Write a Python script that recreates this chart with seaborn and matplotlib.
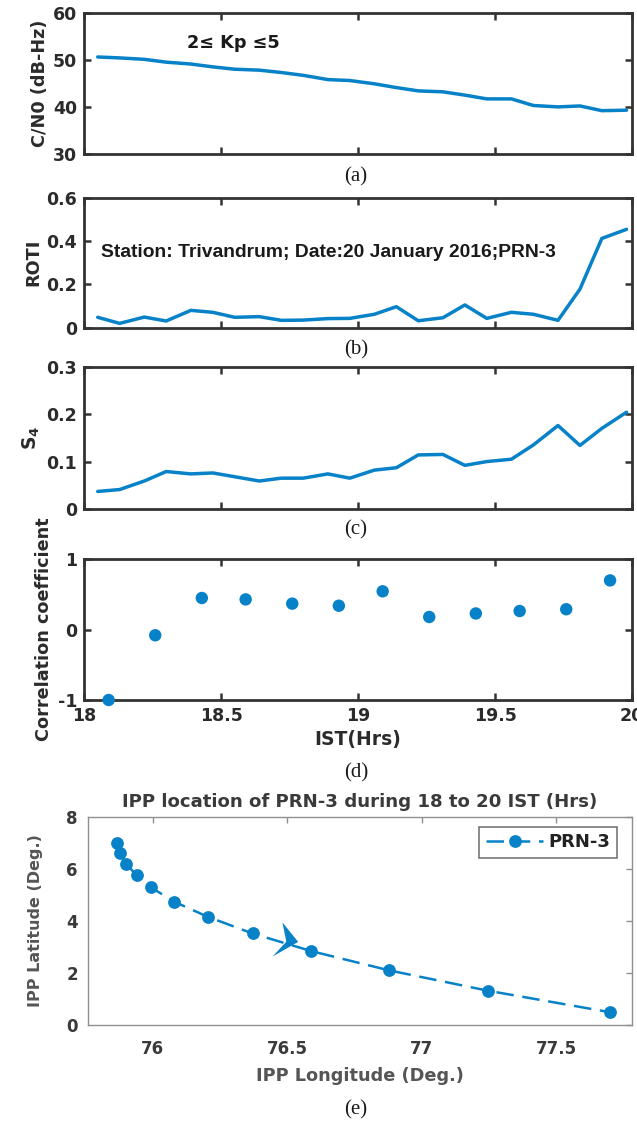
import matplotlib
matplotlib.use("Agg")
import matplotlib.pyplot as plt
from matplotlib.path import Path
from matplotlib.ticker import FixedLocator, FixedFormatter
import seaborn as sns
import pandas as pd

# ---------------- data ----------------
# 5-minute samples (IST hours)
ist_5min = [18.05, 18.13, 18.22, 18.30, 18.39, 18.47, 18.55, 18.64, 18.72, 18.80,
            18.89, 18.97, 19.06, 19.14, 19.22, 19.31, 19.39, 19.47, 19.56, 19.64,
            19.73, 19.81, 19.89, 19.98]
cn0 = [50.6, 50.4, 50.1, 49.5, 49.1, 48.5, 48.0, 47.8, 47.3, 46.7,
       45.8, 45.6, 44.9, 44.1, 43.4, 43.2, 42.5, 41.7, 41.7, 40.3,
       40.0, 40.2, 39.2, 39.3]
roti = [0.048, 0.020, 0.049, 0.031, 0.080, 0.071, 0.048, 0.051, 0.034, 0.035,
        0.042, 0.043, 0.062, 0.097, 0.032, 0.046, 0.105, 0.043, 0.071, 0.062,
        0.034, 0.178, 0.412, 0.454]
s4 = [0.037, 0.041, 0.059, 0.079, 0.074, 0.076, 0.068, 0.059, 0.065, 0.065,
      0.074, 0.065, 0.082, 0.087, 0.114, 0.115, 0.092, 0.100, 0.105, 0.135,
      0.176, 0.134, 0.170, 0.204]

# 10-minute windows for the correlation coefficient
ist_10min = [18.09, 18.26, 18.43, 18.59, 18.76, 18.93, 19.09, 19.26, 19.43, 19.59, 19.76, 19.92]
corr = [-1.0, -0.08, 0.45, 0.43, 0.37, 0.34, 0.545, 0.18, 0.23, 0.265, 0.29, 0.70]

# ionospheric pierce point track of PRN-3
ipp_lon = [75.868, 75.880, 75.900, 75.940, 75.994, 76.080, 76.205, 76.371, 76.590, 76.879, 77.245, 77.700]
ipp_lat = [7.00, 6.62, 6.21, 5.76, 5.29, 4.74, 4.16, 3.52, 2.84, 2.10, 1.32, 0.49]
arrow_lon = [76.46]
arrow_lat = [3.29]

ist_ticks = [18, 18.5, 19, 19.5, 20]
ist_ticklabels = ["18", "18.5", "19", "19.5", "20"]
lon_ticks = [76, 76.5, 77, 77.5]
lon_ticklabels = ["76", "76.5", "77", "77.5"]
lat_ticks = [0, 2, 4, 6, 8]

# ---------------- style ----------------
sns.set_theme(style="white")
plt.rcParams["font.family"] = ["DejaVu Sans"]
plt.rcParams["mathtext.fontset"] = "dejavusans"

BLUE = "#0782c8"
INK = "#2b2b2b"
W, H = 637, 1124

fig = plt.figure(figsize=(W / 100, H / 100), dpi=100)
fig.patch.set_facecolor("white")


def panel(left, right, top, bottom):
    return fig.add_axes([left / W, 1 - bottom / H, (right - left) / W, (bottom - top) / H])


def matlab_box(ax, ylim, yticks, yticklabels, show_x=False):
    ax.set_facecolor("white")
    ax.set_xlim(18, 20)
    ax.set_ylim(*ylim)
    for sp in ax.spines.values():
        sp.set_visible(True)
        sp.set_color("#333333")
        sp.set_linewidth(2.0)
    ax.xaxis.set_major_locator(FixedLocator(ist_ticks))
    ax.yaxis.set_major_locator(FixedLocator(yticks))
    ax.yaxis.set_major_formatter(FixedFormatter(yticklabels))
    if show_x:
        ax.xaxis.set_major_formatter(FixedFormatter(ist_ticklabels))
    ax.tick_params(direction="in", length=5, width=1.8, color="#333333",
                   top=True, right=True, bottom=True, left=True,
                   labelbottom=show_x, labelsize=12.5, labelcolor=INK, pad=5)
    for lab in ax.get_xticklabels() + ax.get_yticklabels():
        lab.set_fontweight("bold")
    ax.grid(False)


# ---------------- (a) C/N0 ----------------
ax_a = panel(84, 632, 12.7, 154)
sns.lineplot(x=ist_5min, y=cn0, ax=ax_a, color=BLUE, linewidth=2.5, sort=False)
matlab_box(ax_a, (30, 60), [30, 40, 50, 60], ["30", "40", "50", "60"])
ax_a.set_ylabel("C/N0 (dB-Hz)", fontsize=12.7, fontweight="bold", color=INK, labelpad=3)
ax_a.text(18.376, 53.6, "2\u2264 Kp \u22645", fontsize=12.7, fontweight="bold",
          color="#1a1a1a", ha="left", va="center")

# ---------------- (b) ROTI ----------------
ax_b = panel(84, 632, 197.7, 327.7)
sns.lineplot(x=ist_5min, y=roti, ax=ax_b, color=BLUE, linewidth=2.5, sort=False)
matlab_box(ax_b, (0, 0.6), [0, 0.2, 0.4, 0.6], ["0", "0.2", "0.4", "0.6"])
ax_b.set_ylabel("ROTI", fontsize=12.7, fontweight="bold", color=INK, labelpad=3)
ax_b.text(18.062, 0.345, "Station: Trivandrum; Date:20 January 2016;PRN-3",
          family=["Liberation Sans", "DejaVu Sans"], fontsize=13.9, fontweight="bold",
          color="#1a1a1a", ha="left", va="center")

# ---------------- (c) S4 ----------------
ax_c = panel(84, 632, 366.7, 509)
sns.lineplot(x=ist_5min, y=s4, ax=ax_c, color=BLUE, linewidth=2.5, sort=False)
matlab_box(ax_c, (0, 0.3), [0, 0.1, 0.2, 0.3], ["0", "0.1", "0.2", "0.3"])
ax_c.set_ylabel(r"$\mathbf{S_4}$", fontsize=13.5, color=INK, labelpad=3)

# ---------------- (d) correlation ----------------
ax_d = panel(84, 632, 559.3, 700)
sns.scatterplot(x=ist_10min, y=corr, ax=ax_d, color=BLUE, s=80, edgecolor="none",
                clip_on=False, zorder=5)
matlab_box(ax_d, (-1, 1), [-1, 0, 1], ["-1", "0", "1"], show_x=True)
ax_d.set_ylabel("Correlation coefficient", fontsize=12.7, fontweight="bold", color=INK, labelpad=3)
ax_d.set_xlabel("IST(Hrs)", fontsize=13.5, fontweight="bold", color=INK, labelpad=4)

# ---------------- (e) IPP track ----------------
ax_e = panel(87.6, 632, 817, 1025)
ax_e.set_facecolor("white")
track = pd.DataFrame({"lon": ipp_lon, "lat": ipp_lat})
sns.lineplot(data=track, x="lon", y="lat", ax=ax_e, color=BLUE, linewidth=1.8,
             marker="o", markersize=9.2, markeredgewidth=0, sort=False, label="PRN-3")
track_line = ax_e.lines[0]
track_line.set_dashes((7, 3.5))

# direction-of-travel arrowhead (pixel units, y up, anchored at the barb midpoint)
head_verts = [(18.8, -2.2), (4.5, 15.5), (8.0, -2.0), (-4.5, -15.5), (18.8, -2.2)]
head = Path(head_verts, [Path.MOVETO, Path.LINETO, Path.LINETO, Path.LINETO, Path.CLOSEPOLY])
ax_e.plot(arrow_lon, arrow_lat, linestyle="none", marker=head, markersize=2 * 18.8 * 0.72 * 1.1,
          color=BLUE, markeredgewidth=0, zorder=6)

ax_e.set_xlim(75.758, 77.781)
ax_e.set_ylim(0, 8)
for sp in ax_e.spines.values():
    sp.set_visible(True)
    sp.set_color("#8f8f8f")
    sp.set_linewidth(1.0)
ax_e.xaxis.set_major_locator(FixedLocator(lon_ticks))
ax_e.xaxis.set_major_formatter(FixedFormatter(lon_ticklabels))
ax_e.yaxis.set_major_locator(FixedLocator(lat_ticks))
ax_e.tick_params(direction="in", length=4, width=1.0, color="#8f8f8f",
                 top=True, right=True, labelsize=12, labelcolor="#3a3a3a")
ax_e.tick_params(axis="x", pad=10.5)
ax_e.tick_params(axis="y", pad=7)
for lab in ax_e.get_xticklabels() + ax_e.get_yticklabels():
    lab.set_fontweight("bold")
ax_e.grid(False)
ax_e.set_title("IPP location of PRN-3 during 18 to 20 IST (Hrs)", fontsize=13.1,
               fontweight="bold", color="#3a3a3a", pad=7)
ax_e.set_xlabel("IPP Longitude (Deg.)", fontsize=12.8, fontweight="bold",
                color="#555555", labelpad=7)
ax_e.set_ylabel("IPP Latitude (Deg.)", fontsize=11.5, fontweight="bold",
                color="#555555", labelpad=17)

leg = ax_e.legend(loc="upper right", bbox_to_anchor=(0.9725, 0.952), borderaxespad=0,
                  fancybox=False, frameon=True, handlelength=3.2, handletextpad=0.3,
                  borderpad=0.35, prop={"size": 13, "weight": "bold"})
leg.get_frame().set_edgecolor("#555555")
leg.get_frame().set_linewidth(1.2)
for t in leg.get_texts():
    t.set_color("#222222")

# ---------------- panel captions ----------------
for label, y in [("(a)", 177), ("(b)", 350), ("(c)", 530), ("(d)", 772.7), ("(e)", 1110)]:
    fig.text(356 / W, 1 - y / H, label, ha="center", va="center",
             family=["Liberation Serif", "DejaVu Serif"], fontsize=15, color="#1a1a1a")

fig.savefig("out.png", dpi=100, facecolor="white")
